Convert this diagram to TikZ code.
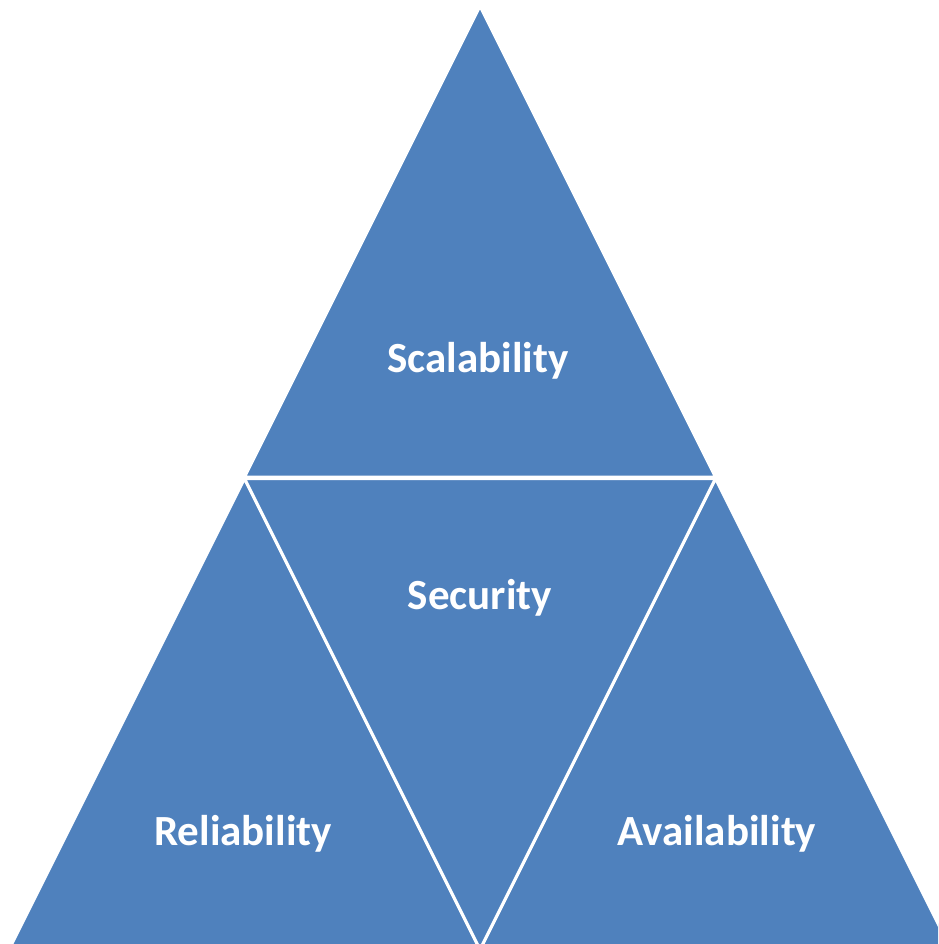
\documentclass[tikz,border=0pt]{standalone}
\usepackage{fontspec}
\setmainfont{Carlito}
\definecolor{tblue}{HTML}{4F81BD}
\tikzset{
  tri/.style={fill=tblue, draw=white, line width=3pt, line join=miter},
  lbl/.style={text=white, font=\bfseries\fontsize{43}{43}\selectfont, anchor=base, inner sep=0pt}
}
\begin{document}
\begin{tikzpicture}[x=1pt,y=-1pt]
\useasboundingbox (0,0) rectangle (938,944);
\begin{scope}
\clip (0,0) rectangle (938,944);
% top triangle
\path[tri] (480,6) -- (715.5,477) -- (244.5,477) -- cycle;
% left triangle
\path[tri] (244.5,478.5) -- (479.5,948.5) -- (9.5,948.5) -- cycle;
% right triangle
\path[tri] (715.5,478.5) -- (950.5,948.5) -- (480.5,948.5) -- cycle;
% middle inverted triangle
\path[tri] (244.5,478.5) -- (715.5,478.5) -- (480,949.5) -- cycle;
\end{scope}
\node[lbl] (scal) at (478,372) {Scalability};
\node[lbl] (sec) at (480,609) {Security};
\node[lbl] (rel) at (243,845) {Reliability};
\node[lbl] (ava) at (717,845) {Availability};
\end{tikzpicture}
\end{document}
